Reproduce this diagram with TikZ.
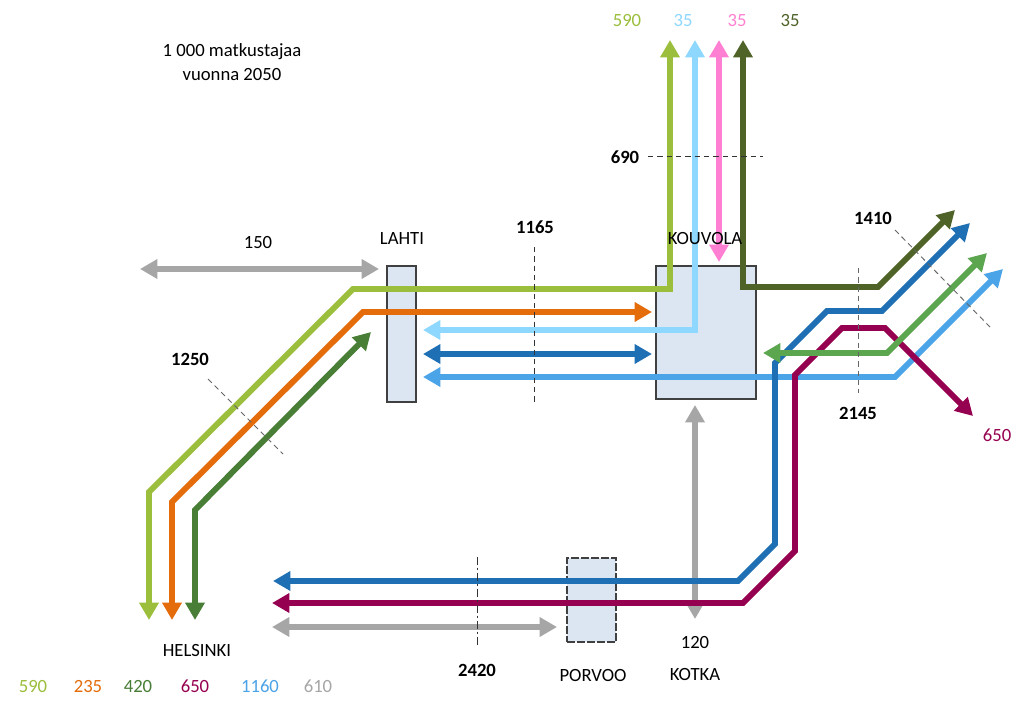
\documentclass[tikz,border=0pt]{standalone}
\usepackage{fontspec}
\setmainfont{Carlito}
\usetikzlibrary{arrows.meta}
\definecolor{cYG}{RGB}{155,190,60}
\definecolor{cOr}{RGB}{228,108,10}
\definecolor{cDG}{RGB}{73,126,54}
\definecolor{cMG}{RGB}{92,166,80}
\definecolor{cMa}{RGB}{150,0,80}
\definecolor{cDB}{RGB}{31,111,181}
\definecolor{cBl}{RGB}{75,163,232}
\definecolor{cSk}{RGB}{142,216,255}
\definecolor{cPk}{RGB}{255,128,210}
\definecolor{cOl}{RGB}{79,98,40}
\definecolor{cGr}{RGB}{166,166,166}
\definecolor{boxfill}{RGB}{220,230,242}
\begin{document}
\begin{tikzpicture}[x=0.75pt,y=-0.75pt,
  flow/.style={line width=4.4pt,line join=miter,
    {Triangle[width=14pt,length=13pt]}-{Triangle[width=14pt,length=13pt]}},
  box/.style={draw=black!75,fill=boxfill,line width=0.8pt,inner sep=0pt},
  cut/.style={draw=black!80,dash pattern=on 4pt off 3pt,line width=0.7pt},
  lbl/.style={font=\fontsize{14}{18}\selectfont,inner sep=0pt},
  blbl/.style={font=\fontsize{14}{18}\selectfont\bfseries,inner sep=0pt}]
\fill[white] (0,0) rectangle (1024,700);
\useasboundingbox (0,0) rectangle (1024,700);

% boxes
\node[box,minimum width=21.75pt,minimum height=102pt] (lahti) at (401.5,334) {};
\node[box,minimum width=75pt,minimum height=99.75pt] (kouvola) at (706,332.5) {};
\node[box,dashed,dash pattern=on 6pt off 1.5pt,minimum width=36.75pt,minimum height=63pt] (porvoo) at (591.5,600) {};

% coordinates
\coordinate (yg1) at (670,40);   \coordinate (yg2) at (670,289);
\coordinate (yg3) at (353,289);  \coordinate (yg4) at (149,492);
\coordinate (yg5) at (149,620);
\coordinate (or1) at (652,312);  \coordinate (or2) at (363,312);
\coordinate (or3) at (172,502);  \coordinate (or4) at (172,620);
\coordinate (dg1) at (371,332);  \coordinate (dg2) at (195,510);
\coordinate (dg3) at (195,620);
\coordinate (sk1) at (695,40);   \coordinate (sk2) at (695,330);
\coordinate (sk3) at (423,330);
\coordinate (pk1) at (719,40);   \coordinate (pk2) at (719,262);
\coordinate (ol1) at (743,40);   \coordinate (ol2) at (743,287);
\coordinate (ol3) at (878,287);  \coordinate (ol4) at (955,210);
\coordinate (db1) at (423,354);  \coordinate (db2) at (652,354);
\coordinate (bl1) at (423,377);  \coordinate (bl2) at (895,377);
\coordinate (bl3) at (1003,269);
\coordinate (mg1) at (763,353);  \coordinate (mg2) at (887,353);
\coordinate (mg3) at (987,253);
\coordinate (dl1) at (273,581);  \coordinate (dl2) at (738,581);
\coordinate (dl3) at (775,544);  \coordinate (dl4) at (775,363);
\coordinate (dl5) at (827,311);  \coordinate (dl6) at (882,311);
\coordinate (dl7) at (970,223);
\coordinate (ma1) at (272,603);  \coordinate (ma2) at (743,603);
\coordinate (ma3) at (795,551);  \coordinate (ma4) at (795,375);
\coordinate (ma5) at (842,328);  \coordinate (ma6) at (885,328);
\coordinate (ma7) at (973,416);
\coordinate (g1a) at (140,269);  \coordinate (g1b) at (379,269);
\coordinate (g2a) at (272,627);  \coordinate (g2b) at (557,627);
\coordinate (g3a) at (695,405);  \coordinate (g3b) at (695,619);

% flows
\draw[flow,cGr] (g1a) -- (g1b);
\draw[flow,cGr] (g2a) -- (g2b);
\draw[flow,cGr] (g3a) -- (g3b);
\draw[flow,cBl] (bl1) -- (bl2) -- (bl3);
\draw[flow,cDB] (dl1) -- (dl2) -- (dl3) -- (dl4) -- (dl5) -- (dl6) -- (dl7);
\draw[flow,cMa] (ma1) -- (ma2) -- (ma3) -- (ma4) -- (ma5) -- (ma6) -- (ma7);
\draw[flow,cMG] (mg1) -- (mg2) -- (mg3);
\draw[flow,cDB] (db1) -- (db2);
\draw[flow,cDG] (dg1) -- (dg2) -- (dg3);
\draw[flow,cOr] (or1) -- (or2) -- (or3) -- (or4);
\draw[flow,cYG] (yg1) -- (yg2) -- (yg3) -- (yg4) -- (yg5);
\draw[flow,cSk] (sk1) -- (sk2) -- (sk3);
\draw[flow,cPk] (pk1) -- (pk2);
\draw[flow,cOl] (ol1) -- (ol2) -- (ol3) -- (ol4);

% cut lines
\coordinate (c690a) at (648,156);  \coordinate (c690b) at (763,156);
\coordinate (c1165a) at (534,247); \coordinate (c1165b) at (534,403);
\coordinate (c1410a) at (895,230); \coordinate (c1410b) at (990,327);
\coordinate (c1250a) at (208,379); \coordinate (c1250b) at (283,454);
\coordinate (c2145a) at (858,268); \coordinate (c2145b) at (858,393);
\coordinate (c2420a) at (477,557); \coordinate (c2420b) at (477,645);
\draw[cut] (c690a) -- (c690b);
\draw[cut] (c1165a) -- (c1165b);
\draw[cut,draw=black!60] (c1410a) -- (c1410b);
\draw[cut,draw=black!60] (c1250a) -- (c1250b);
\draw[cut,draw=black!60] (c2145a) -- (c2145b);
\draw[cut,dash pattern=on 6pt off 2pt on 2pt off 2pt] (c2420a) -- (c2420b);

% labels
\node[lbl,align=center] (title) at (232,62) {1 000 matkustajaa\\vuonna 2050};
\node[lbl,text=cYG] (t590) at (627,21) {590};
\node[lbl,text=cSk] (t35a) at (683,21) {35};
\node[lbl,text=cPk] (t35b) at (737,21) {35};
\node[lbl,text=cOl] (t35c) at (790,21) {35};
\node[blbl] (l690) at (625,157) {690};
\node[lbl] (l150) at (258,243) {150};
\node[lbl] (llahti) at (402,239) {LAHTI};
\node[blbl] (l1165) at (535,227) {1165};
\node[lbl] (lkouvola) at (705,239) {KOUVOLA};
\node[blbl] (l1410) at (873,218) {1410};
\node[blbl] (l1250) at (190,359) {1250};
\node[blbl] (l2145) at (858,413) {2145};
\node[lbl,text=cMa] (l650) at (997,435) {650};
\node[lbl] (lhel) at (197,650) {HELSINKI};
\node[blbl] (l2420) at (477,670) {2420};
\node[lbl] (lporvoo) at (593,675) {PORVOO};
\node[lbl] (l120) at (695,642) {120};
\node[lbl] (lkotka) at (695,674) {KOTKA};
\node[lbl,text=cYG] (g590) at (33,686) {590};
\node[lbl,text=cOr] (g235) at (88,686) {235};
\node[lbl,text=cDG] (g420) at (138,686) {420};
\node[lbl,text=cMa] (g650) at (195,686) {650};
\node[lbl,text=cBl] (g1160) at (260,686) {1160};
\node[lbl,text=cGr] (g610) at (318,686) {610};
\end{tikzpicture}
\end{document}
